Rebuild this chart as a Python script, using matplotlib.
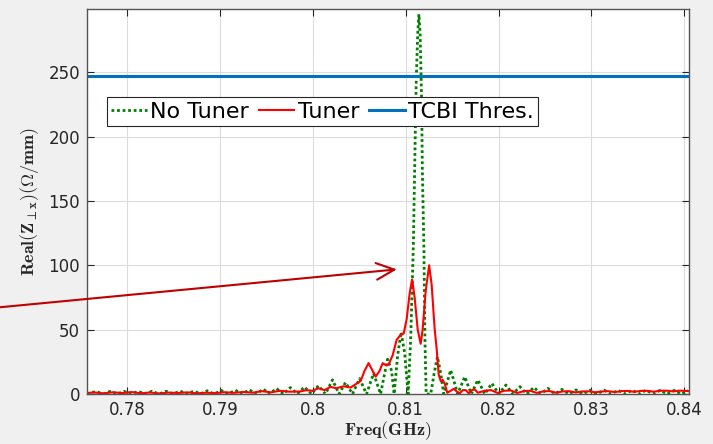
import numpy as np
import matplotlib
matplotlib.use('Agg')
import matplotlib.pyplot as plt

plt.rcParams['font.family'] = ['DejaVu Sans']
plt.rcParams['mathtext.fontset'] = 'cm'

# No Tuner: lobe peaks and zeros
freq_notuner = [0.7757, 0.77667, 0.77743, 0.77818, 0.77894, 0.77969, 0.78045, 0.78120, 0.78195,
                0.78271, 0.78346, 0.78422, 0.78497, 0.78573, 0.78648, 0.78724, 0.78789, 0.78864,
                0.78940, 0.79015, 0.79091, 0.79166, 0.79242, 0.79317, 0.79393, 0.79468, 0.79538,
                0.79608, 0.79684, 0.79759, 0.79835, 0.79910, 0.79986, 0.80061, 0.80137, 0.80213,
                0.80283, 0.80353, 0.80428, 0.80504, 0.80579, 0.80655, 0.80730, 0.80774, 0.80806,
                0.80849, 0.80876, 0.80914, 0.80951, 0.80989, 0.81027, 0.81054, 0.81083, 0.81097,
                0.81113, 0.81130, 0.81143, 0.81156, 0.81172, 0.81180, 0.81197, 0.81208, 0.81221,
                0.81270, 0.81307, 0.81342, 0.81378, 0.81410, 0.81485, 0.81561, 0.81636, 0.81707,
                0.81777, 0.81852, 0.81928, 0.82003, 0.82079, 0.82154, 0.82230, 0.82305, 0.82381,
                0.82456, 0.82532, 0.82607, 0.82683, 0.82758, 0.82834, 0.82909, 0.82985, 0.83060,
                0.83136, 0.83211, 0.83287, 0.83362, 0.83438, 0.83513, 0.83589, 0.83664, 0.83740,
                0.83815, 0.83891, 0.83966, 0.84042]
z_notuner = [0, 2.0, 0, 2.0, 0, 2.1, 0, 2.1, 0,
             2.2, 0, 2.2, 0, 2.3, 0, 2.4, 0, 2.5,
             0, 2.8, 0, 3.0, 0, 3.3, 0, 3.8, 0,
             4.4, 0, 5.0, 0, 5.5, 0, 6.5, 0, 11,
             0, 9, 0, 12, 0, 16, 0, 16, 27,
             18, 0, 30, 48, 32, 0, 42, 115, 174,
             240, 280, 295, 280, 228, 174, 112, 42, 0,
             0, 16, 29, 16, 0, 18.6, 0, 13.4, 0,
             10.9, 0, 8.3, 0, 7.0, 0, 5.7, 0, 5.2,
             0, 4.4, 0, 3.6, 0, 3.2, 0, 3.0, 0,
             3.0, 0, 2.9, 0, 3.0, 0, 3.0, 0, 2.9,
             0, 2.8, 0, 2.6]

# Tuner
freq_tuner = [0.7757, 0.7765, 0.7775, 0.7785, 0.7795, 0.7805, 0.7815, 0.7825, 0.7835, 0.7845,
              0.7855, 0.7865, 0.7875, 0.7885, 0.7895, 0.7905, 0.7915, 0.7925, 0.7935, 0.7945,
              0.7955, 0.7965, 0.7975, 0.79867, 0.79932, 0.79997, 0.80061, 0.80126, 0.80191,
              0.80256, 0.80331, 0.80407, 0.80471, 0.80515, 0.80558, 0.80601, 0.80645, 0.80677,
              0.80720, 0.80753, 0.80785, 0.80817, 0.80860, 0.80903, 0.80946, 0.80979, 0.81011,
              0.81043, 0.81070, 0.81097, 0.81130, 0.81162, 0.81183, 0.81216, 0.81253, 0.81280,
              0.81313, 0.81334, 0.81356, 0.81378, 0.81399, 0.81421, 0.81448, 0.81485, 0.81518,
              0.81550, 0.81583, 0.81615, 0.81647, 0.81680, 0.81712, 0.81744, 0.81777, 0.8185,
              0.8192, 0.8199, 0.8206, 0.8213, 0.8220, 0.8227, 0.8234, 0.8241, 0.8248, 0.8255,
              0.8262, 0.8269, 0.8276, 0.8283, 0.8290, 0.8297, 0.8304, 0.8311, 0.8318, 0.8325,
              0.8332, 0.8339, 0.8346, 0.8353, 0.8360, 0.8367, 0.8374, 0.8381, 0.8388, 0.8395,
              0.8402, 0.8405]
z_tuner = [0.8, 1.2, 0.5, 1.4, 0.7, 1.5, 0.6, 1.2, 0.4, 1.1,
           0.8, 1.3, 0.5, 1.0, 0.7, 1.4, 0.9, 1.6, 1.0, 2.2,
           1.3, 2.5, 1.8, 2.0, 3.0, 2.5, 4.5, 3.0, 5.5,
           4.5, 6.0, 5.0, 8.0, 10, 18, 24, 18, 13.5,
           18, 24, 22.5, 23, 30, 42, 46, 47, 58,
           78, 89, 75, 50, 39, 50, 80, 100, 85,
           50, 35, 15, 10, 11, 8, 1, 2.5, 4,
           2, 0.5, 3, 3, 0.5, 3, 3.5, 1, 2.5,
           3, 0.8, 2.5, 2.8, 0.8, 2.2, 2.5, 0.9, 2, 2.3,
           1, 2, 2.2, 1.2, 2, 2.1, 1.3, 2.0, 2.2, 1.5,
           2.2, 2.4, 1.7, 2.4, 2.5, 1.8, 2.5, 2.6, 2.0, 2.6,
           2.4, 2.2]

tcbi_threshold = 247
xticks = [0.78, 0.79, 0.80, 0.81, 0.82, 0.83, 0.84]
xtick_labels = ['0.78', '0.79', '0.8', '0.81', '0.82', '0.83', '0.84']
yticks = [0, 50, 100, 150, 200, 250]

fig = plt.figure(figsize=(7.13, 4.44), dpi=100, facecolor='#f0f0f0')
ax = fig.add_axes([0.122, 0.1126, 0.8443, 0.867])
ax.set_facecolor('white')

ax.plot(freq_notuner, z_notuner, color='#008000', linestyle=(0, (1, 1)), linewidth=2.0,
        label='No Tuner')
ax.plot(freq_tuner, z_tuner, color='#ff0000', linestyle='-', linewidth=1.5, label='Tuner')
ax.axhline(tcbi_threshold, color='#0072bd', linewidth=2.2, label='TCBI Thres.')

ax.set_xlim(0.7757, 0.8405)
ax.set_ylim(0, 299)
ax.set_xticks(xticks)
ax.set_xticklabels(xtick_labels)
ax.set_yticks(yticks)
ax.grid(True, color='#dcdcdc', linewidth=0.8)
ax.set_axisbelow(True)
ax.tick_params(direction='in', length=5, top=True, right=True, labelsize=12,
               colors='#262626', pad=5)
for s in ax.spines.values():
    s.set_color('#555555')
    s.set_linewidth(1.0)

ax.set_xlabel(r'$\mathbf{Freq(GHz)}$', fontsize=13, color='#262626', labelpad=0)
ax.set_ylabel(r'$\mathbf{Real(Z}_{\perp\mathbf{x}}\mathbf{)(\Omega/mm)}$', fontsize=13,
              color='#262626', labelpad=5)

leg = ax.legend(loc='upper left', bbox_to_anchor=(0.033, 0.771), ncol=3, fontsize=16,
                frameon=True, fancybox=False, edgecolor='#262626', framealpha=1,
                handlelength=1.6, handletextpad=0.15, columnspacing=0.45,
                borderpad=0.2, borderaxespad=0)
leg.get_frame().set_linewidth(0.8)

# arrow pointing at the tuned peak
ax.annotate('', xy=(0.80935, 97), xytext=(0.7652, 66.6),
            arrowprops=dict(arrowstyle='->,head_length=1.3,head_width=0.6',
                            color='#c00000', lw=1.5),
            annotation_clip=False)

plt.savefig('out.png', dpi=100, facecolor=fig.get_facecolor())
